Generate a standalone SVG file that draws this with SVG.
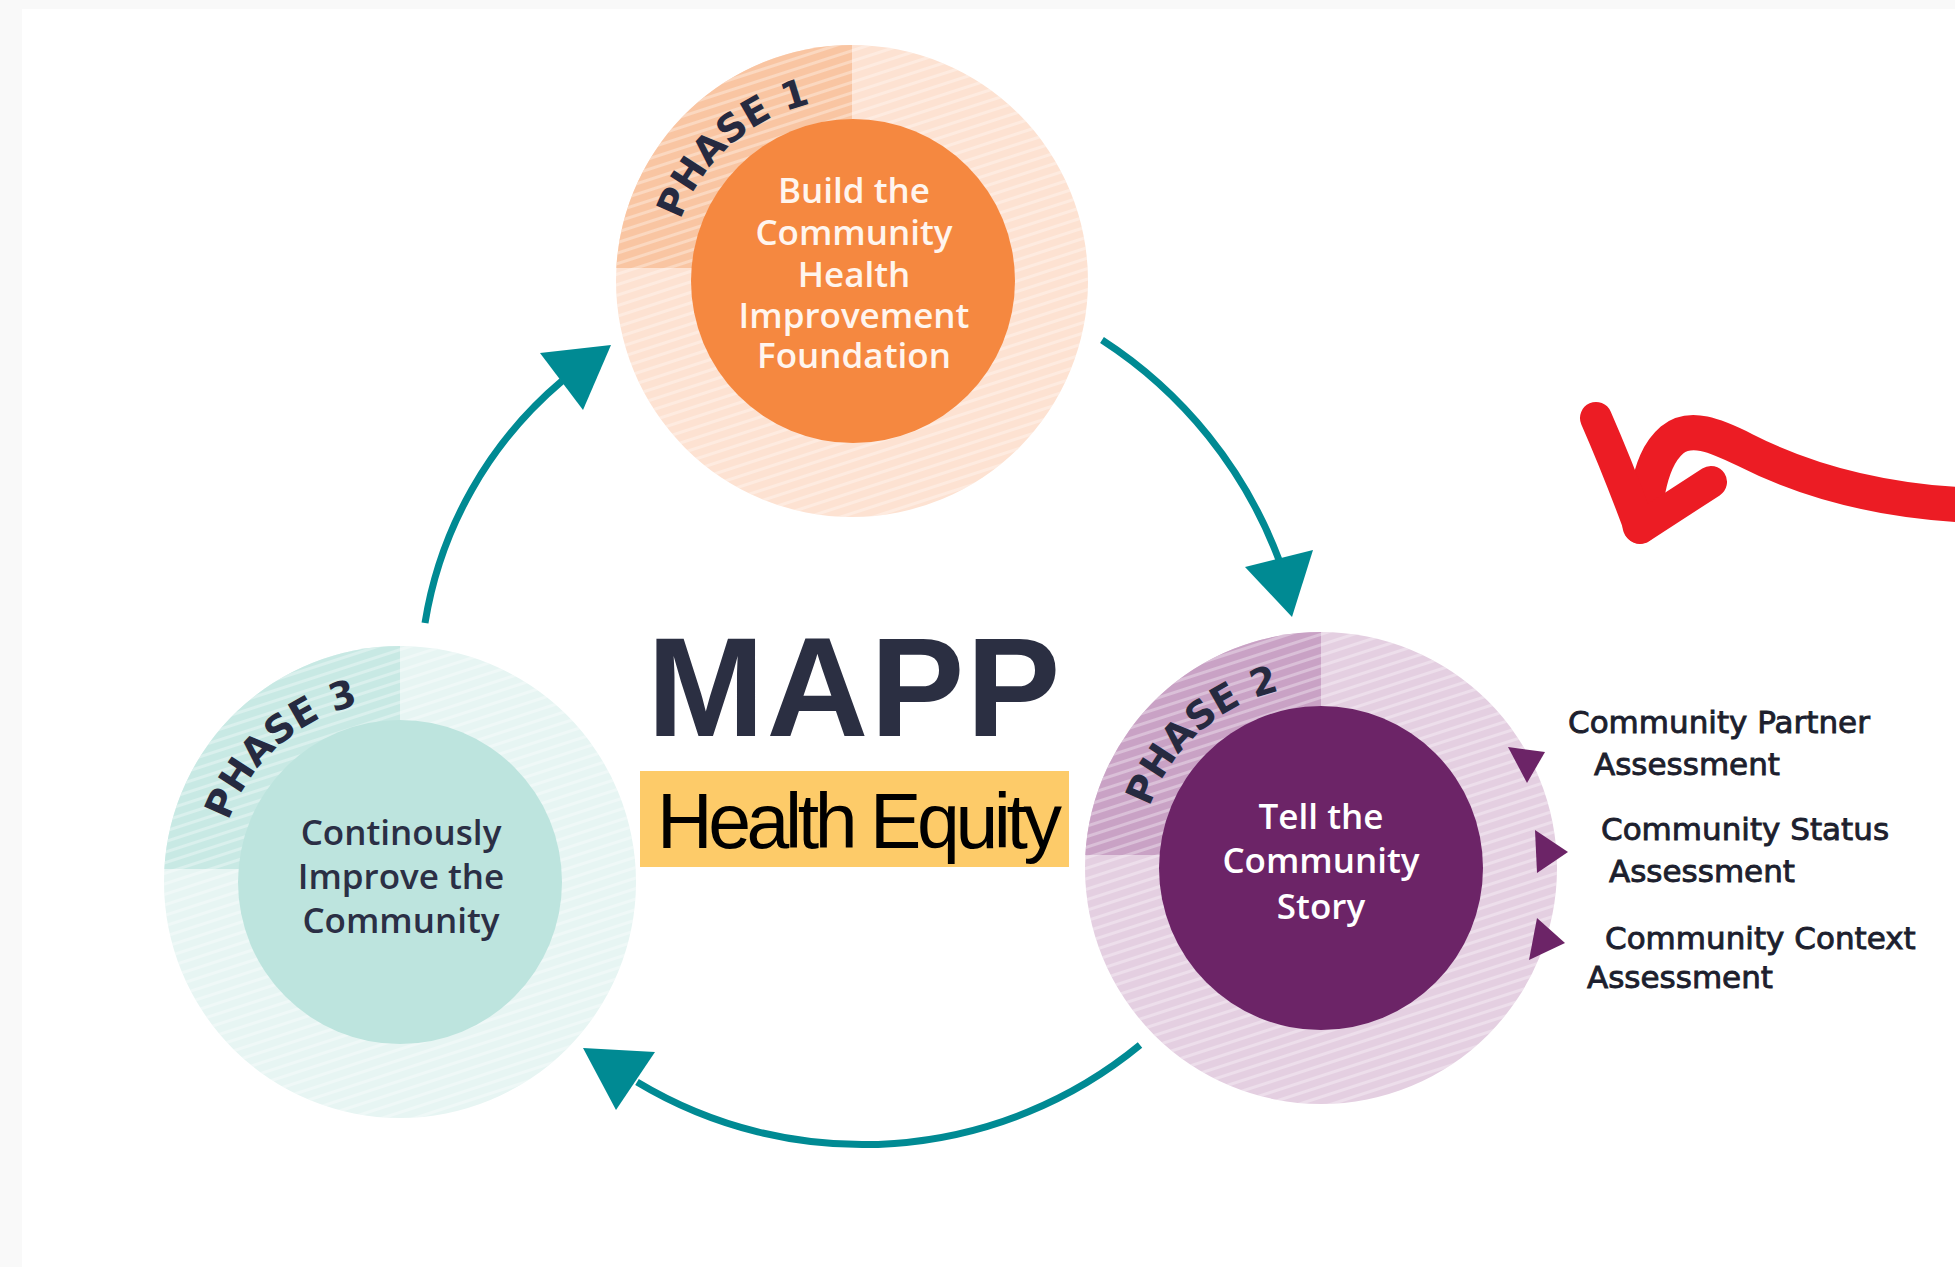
<svg xmlns="http://www.w3.org/2000/svg" width="1955" height="1267" viewBox="0 0 1955 1267">
<defs>
<style>
.inner{font-family:"Open Sans","Noto Sans",sans-serif;font-weight:600;font-size:35px;text-anchor:middle}
.phase{font-family:"DejaVu Sans","Liberation Sans",sans-serif;font-weight:bold;font-size:38px;fill:#262a40}
.lbl{font-family:"DejaVu Sans","Liberation Sans",sans-serif;font-size:31px;fill:#1d1f2e;stroke:#1d1f2e;stroke-width:0.9}
.flow{fill:none;stroke:#008a93;stroke-width:7}
.head{fill:#008a93}
.out{fill:#6c2467}
.red{fill:none;stroke:#ec1c24;stroke-linecap:round;stroke-linejoin:round}
</style>
<pattern id="stripes" patternUnits="userSpaceOnUse" width="10" height="10" patternTransform="rotate(-18)">
<rect x="0" y="0" width="10" height="3" fill="#ffffff" fill-opacity="0.32"/>
</pattern>
<path id="arc1" d="M678.0,227.8 A182,182 0 0 1 836.1,99.7"/>
<path id="arc2" d="M1147.0,814.8 A182,182 0 0 1 1305.1,686.7"/>
<path id="arc3" d="M226.0,828.8 A182,182 0 0 1 384.1,700.7"/>
</defs>
<rect x="0" y="0" width="1955" height="1267" fill="#ffffff"/>
<rect x="0" y="0" width="22" height="1267" fill="#f9f9f9"/>
<rect x="0" y="0" width="1955" height="9" fill="#f9f9f9"/>

<g id="phase1">
<circle cx="852" cy="281" r="236" fill="#fde2d2"/>
<path d="M852,268 L616.3,268 A236,236 0 0 1 852,45 Z" fill="#f9c5a2"/>
<circle cx="852" cy="281" r="236" fill="url(#stripes)"/>
<circle cx="853" cy="281" r="162" fill="#f58840"/>
<text class="inner" fill="#fff5ee"><tspan x="854" y="203">Build the</tspan><tspan x="854" y="245">Community</tspan><tspan x="854" y="287">Health</tspan><tspan x="854" y="328">Improvement</tspan><tspan x="854" y="368">Foundation</tspan></text>
<text class="phase"><textPath href="#arc1" startOffset="8">PHASE 1</textPath></text>
</g>

<g id="phase2">
<circle cx="1321" cy="868" r="236" fill="#e4cfe1"/>
<path d="M1321,855 L1085.3,855 A236,236 0 0 1 1321,632 Z" fill="#c9a2c5"/>
<circle cx="1321" cy="868" r="236" fill="url(#stripes)"/>
<circle cx="1321" cy="868" r="162" fill="#6c2467"/>
<text class="inner" fill="#ffffff"><tspan x="1321" y="829">Tell the</tspan><tspan x="1321" y="873">Community</tspan><tspan x="1321" y="919">Story</tspan></text>
<text class="phase"><textPath href="#arc2" startOffset="8">PHASE 2</textPath></text>
</g>

<g id="phase3">
<circle cx="400" cy="882" r="236" fill="#e7f5f3"/>
<path d="M400,869 L164.3,869 A236,236 0 0 1 400,646 Z" fill="#c8e9e4"/>
<circle cx="400" cy="882" r="236" fill="url(#stripes)"/>
<circle cx="400" cy="882" r="162" fill="#bde4de"/>
<text class="inner" fill="#2b2f45"><tspan x="401" y="845">Continously</tspan><tspan x="401" y="889">Improve the</tspan><tspan x="401" y="933">Community</tspan></text>
<text class="phase"><textPath href="#arc3" startOffset="8">PHASE 3</textPath></text>
</g>

<g id="title">
<text x="647" y="736" font-family="Liberation Sans, Arial, sans-serif" font-weight="bold" font-size="141" letter-spacing="2" fill="#2b2f42">MAPP</text>
</g>

<g id="health-equity">
<rect x="640" y="771" width="429" height="96" fill="#fdcb69"/>
<text x="657" y="848" font-family="Liberation Sans, Arial, sans-serif" font-size="77" fill="#000000" textLength="405" lengthAdjust="spacing">Health Equity</text>
</g>

<g id="connectors">
<path class="flow" d="M1102,340 A450,450 0 0 1 1279,560"/>
<polygon class="head" points="1245,567 1313,550 1292,617"/>
<path class="flow" d="M1140,1045 A437,437 0 0 1 637,1082"/>
<polygon class="head" points="583,1048 655,1052 616,1110"/>
<path class="flow" d="M425,623 A400,400 0 0 1 562,381"/>
<polygon class="head" points="540,353 611,345 583,410"/>
</g>

<g id="phase2-outputs">
<polygon class="out" points="1508,747 1545,752 1527,783"/>
<polygon class="out" points="1535,830 1568,852 1537,873"/>
<polygon class="out" points="1537,918 1565,943 1529,960"/>
<text class="lbl" x="1568" y="733">Community Partner</text>
<text class="lbl" x="1594" y="775">Assessment</text>
<text class="lbl" x="1601" y="840">Community Status</text>
<text class="lbl" x="1609" y="882">Assessment</text>
<text class="lbl" x="1605" y="949">Community Context</text>
<text class="lbl" x="1587" y="988">Assessment</text>
</g>

<g id="red-arrow">
<path class="red" stroke-width="35" d="M1965,505 C1870,500 1800,478 1745,450 C1715,435 1690,425 1672,440 C1658,452 1652,470 1648,490 L1640,526"/>
<path class="red" stroke-width="32" d="M1596,418 C1610,450 1626,490 1640,528 L1711,482"/>
</g>
</svg>
